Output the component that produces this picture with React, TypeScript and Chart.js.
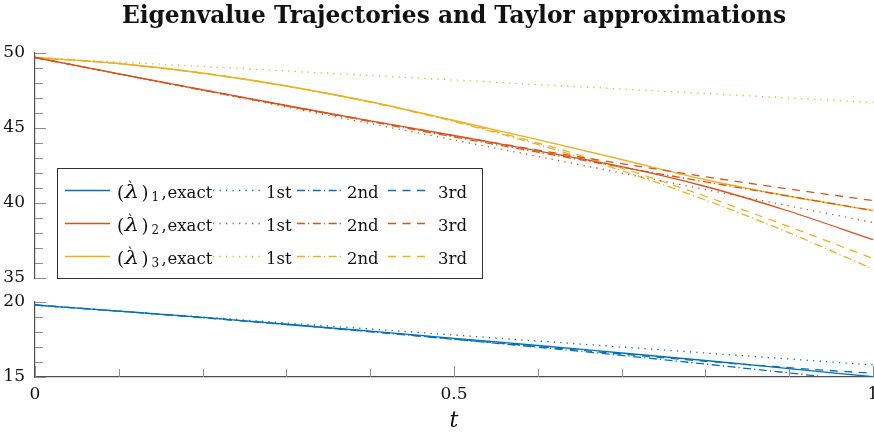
import { useEffect, useRef } from 'react';
import { Chart, registerables } from 'chart.js';

Chart.register(...registerables);

// Parameter values along the path
const T = [0, 0.1, 0.2, 0.3, 0.4, 0.5, 0.6, 0.7, 0.8, 0.9, 1];

// (λ)1: exact trajectory and Taylor approximations of order 1..3
const lambda1Exact = [19.8, 19.39, 18.97, 18.52, 18.06, 17.58, 17.1, 16.6, 16.1, 15.56, 15.02];
const lambda1First = [19.8, 19.4, 19.0, 18.6, 18.2, 17.8, 17.4, 17.0, 16.6, 16.2, 15.8];
const lambda1Second = [19.8, 19.39, 18.95, 18.5, 18.02, 17.51, 16.99, 16.44, 15.86, 15.27, 14.65];
const lambda1Third = [19.8, 19.39, 18.96, 18.5, 18.03, 17.53, 17.03, 16.53, 16.05, 15.62, 15.24];

// (λ)2
const lambda2Exact = [49.7, 48.61, 47.55, 46.5, 45.48, 44.5, 43.47, 42.42, 41.1, 39.45, 37.55];
const lambda2First = [49.7, 48.6, 47.5, 46.4, 45.3, 44.2, 43.1, 42.0, 40.9, 39.8, 38.7];
const lambda2Second = [49.7, 48.61, 47.53, 46.47, 45.43, 44.4, 43.39, 42.39, 41.41, 40.45, 39.5];
const lambda2Third = [49.7, 48.61, 47.54, 46.49, 45.47, 44.48, 43.53, 42.62, 41.75, 40.93, 40.16];

// (λ)3
const lambda3Exact = [49.7, 49.3, 48.65, 47.8, 46.75, 45.5, 44.22, 42.9, 41.55, 40.45, 39.5];
const lambda3First = [49.7, 49.4, 49.1, 48.8, 48.5, 48.2, 47.9, 47.6, 47.3, 47.0, 46.7];
const lambda3Second = [49.7, 49.29, 48.66, 47.8, 46.72, 45.43, 43.9, 42.16, 40.2, 38.01, 35.6];
const lambda3Third = [49.7, 49.29, 48.66, 47.8, 46.74, 45.47, 44.0, 42.33, 40.45, 38.42, 36.3];

// Axis ranges of the two panels (broken y axis)
const UPPER_RANGE = [35, 50];
const LOWER_RANGE = [15, 20];
const X_LABEL_STEP = 0.5;
const X_MINOR_STEP = 0.1;

const TITLE = 'Eigenvalue Trajectories and Taylor approximations';
const X_TITLE = 't';
const ORDER_LABELS = ['exact', '1st', '2nd', '3rd'];

const BLUE = '#0072BD';
const RED = '#D95319';
const YELLOW = '#EDB120';
const AXIS = '#505050';
const TICK = '#8c8c8c';
const SERIF = '"DejaVu Serif", serif';

const DASHES: number[][] = [[], [1.3, 5.2], [8, 3, 1.3, 3.5], [8, 6.5]];

const EIGEN = [
  { idx: '1', color: BLUE, axis: 'yLower', series: [lambda1Exact, lambda1First, lambda1Second, lambda1Third] },
  { idx: '2', color: RED, axis: 'yUpper', series: [lambda2Exact, lambda2First, lambda2Second, lambda2Third] },
  { idx: '3', color: YELLOW, axis: 'yUpper', series: [lambda3Exact, lambda3First, lambda3Second, lambda3Third] },
];

const datasets = EIGEN.flatMap((e) =>
  e.series.map((vals, k) => ({
    label: `(λ)${e.idx}, ${ORDER_LABELS[k]}`,
    data: T.map((t, i) => ({ x: t, y: vals[i] })),
    yAxisID: e.axis,
    borderColor: e.color,
    backgroundColor: e.color,
    borderWidth: 1.3,
    borderDash: DASHES[k],
    borderCapStyle: 'butt' as const,
    pointRadius: 0,
    fill: false,
    cubicInterpolationMode: 'monotone' as const,
  }))
);

// keep each panel's curves inside their own y range
const panelClip = {
  id: 'panelClip',
  beforeDatasetDraw(chart: any, args: any) {
    const sc = chart.scales[args.meta.yAxisID];
    const ca = chart.chartArea;
    const ctx = chart.ctx;
    ctx.save();
    ctx.beginPath();
    ctx.rect(ca.left, sc.top - 1, ca.right - ca.left + 2, sc.bottom - sc.top + 2);
    ctx.clip();
  },
  afterDatasetDraw(chart: any) {
    chart.ctx.restore();
  },
};

// inward-pointing major/minor tick marks
const innerTicks = {
  id: 'innerTicks',
  afterDraw(chart: any) {
    const { ctx, chartArea: ca } = chart;
    ctx.save();
    ctx.strokeStyle = TICK;
    ctx.lineWidth = 1;
    const yTicks = (sc: any, lo: number, hi: number) => {
      for (let v = lo; v <= hi; v += 1) {
        const y = Math.round(sc.getPixelForValue(v)) + 0.5;
        const len = v % 5 === 0 ? 11 : 8;
        ctx.beginPath();
        ctx.moveTo(ca.left, y);
        ctx.lineTo(ca.left + len, y);
        ctx.stroke();
      }
    };
    yTicks(chart.scales.yUpper, UPPER_RANGE[0], UPPER_RANGE[1]);
    yTicks(chart.scales.yLower, LOWER_RANGE[0], LOWER_RANGE[1]);
    const xs = chart.scales.x;
    const n = Math.round(1 / X_MINOR_STEP);
    for (let i = 0; i <= n; i++) {
      const v = i * X_MINOR_STEP;
      const x = Math.round(xs.getPixelForValue(v)) + 0.5;
      const major = Math.abs(v / X_LABEL_STEP - Math.round(v / X_LABEL_STEP)) < 1e-6;
      const len = major ? 11 : 8;
      ctx.beginPath();
      ctx.moveTo(x, ca.bottom);
      ctx.lineTo(x, ca.bottom - len);
      ctx.stroke();
    }
    ctx.restore();
  },
};

// 3 x 4 legend box in the lower-left corner of the upper panel
const gridLegend = {
  id: 'gridLegend',
  afterDraw(chart: any) {
    const { ctx, chartArea: ca } = chart;
    const up = chart.scales.yUpper;
    const w = 425;
    const h = 110;
    const left = ca.left + 22;
    const top = up.bottom - h;
    ctx.save();
    ctx.fillStyle = '#fff';
    ctx.fillRect(left, top, w, h);
    ctx.strokeStyle = '#333';
    ctx.lineWidth = 1;
    ctx.strokeRect(Math.round(left) + 0.5, Math.round(top) + 0.5, w, h);

    const samples = [
      [8, 53],
      [156, 203],
      [240, 286],
      [331, 371],
    ];
    const texts = [0, 209, 290, 381];
    EIGEN.forEach((e, r) => {
      const ry = top + 22.5 + r * 33;
      samples.forEach(([a, b], k) => {
        ctx.beginPath();
        ctx.strokeStyle = e.color;
        ctx.lineWidth = 1.3;
        ctx.setLineDash(DASHES[k]);
        ctx.moveTo(left + a, ry);
        ctx.lineTo(left + b, ry);
        ctx.stroke();
      });
      ctx.setLineDash([]);
      ctx.fillStyle = '#111';
      ctx.textBaseline = 'alphabetic';
      ctx.textAlign = 'left';
      const base = ry + 7;
      ctx.font = `18px ${SERIF}`;
      ctx.fillText('(', left + 60, base + 1.5);
      ctx.fillText(')', left + 84.5, base + 1.5);
      // widened lambda with a grave accent
      ctx.save();
      ctx.translate(left + 67.5, base);
      ctx.scale(1.3, 1);
      ctx.font = `italic 18px ${SERIF}`;
      ctx.fillText('λ', 0, 0);
      ctx.restore();
      ctx.font = `13px ${SERIF}`;
      ctx.fillText('`', left + 70.5, base - 6.5);
      ctx.font = `12px ${SERIF}`;
      ctx.fillText(e.idx, left + 94.5, base + 3);
      ctx.font = `16.5px ${SERIF}`;
      ctx.fillText(',', left + 104.5, base);
      ctx.fillText(ORDER_LABELS[0], left + 110.5, base);
      for (let k = 1; k < 4; k++) ctx.fillText(ORDER_LABELS[k], left + texts[k], base);
    });
    ctx.restore();
  },
};

const chartTitle = {
  id: 'chartTitle',
  afterDraw(chart: any) {
    const { ctx, chartArea: ca } = chart;
    ctx.save();
    ctx.font = `bold 23.3px ${SERIF}`;
    ctx.fillStyle = '#111';
    ctx.textAlign = 'center';
    ctx.textBaseline = 'middle';
    ctx.fillText(TITLE, (ca.left + ca.right) / 2, 17);
    ctx.restore();
  },
};

const tickFont = { family: SERIF, size: 17 };
const fmt = (v: number | string) => String(Number(v));

const yScale = (range: number[], stackWeight: number, weight: number) => ({
  type: 'linear' as const,
  position: 'left' as const,
  stack: 'eig',
  stackWeight,
  weight,
  min: range[0],
  max: range[1],
  grid: { display: false, drawTicks: false },
  border: { display: true, color: AXIS, width: 1.2 },
  ticks: { stepSize: 5, padding: 10, color: '#111', font: tickFont, callback: fmt },
  afterFit: (s: any) => {
    s.width = 35;
    s.paddingTop = 0;
    s.paddingBottom = 0;
  },
});

export default function App() {
  const ref = useRef<HTMLCanvasElement>(null);

  useEffect(() => {
    if (!ref.current) return;
    const chart = new Chart(ref.current, {
      type: 'line',
      data: { datasets },
      options: {
        animation: false,
        responsive: false,
        devicePixelRatio: 1,
        layout: { padding: { top: 53, right: 1, left: 0, bottom: 0 } },
        plugins: {
          legend: { display: false },
          tooltip: { enabled: false },
          title: { display: false },
        },
        scales: {
          x: {
            type: 'linear',
            position: 'bottom',
            min: 0,
            max: 1,
            grid: { display: false, drawTicks: false },
            border: { display: true, color: AXIS, width: 1.2 },
            ticks: { stepSize: X_LABEL_STEP, padding: 7, color: '#111', font: tickFont, maxRotation: 0, callback: fmt },
            title: {
              display: true,
              text: X_TITLE,
              color: '#111',
              font: { family: SERIF, size: 22, style: 'italic' },
              padding: { top: 0, bottom: 0 },
            },
            afterFit: (s: any) => {
              s.height = 57;
              s.paddingLeft = 0;
              s.paddingRight = 0;
            },
          },
          yUpper: yScale(UPPER_RANGE, 225, 3),
          yGap: {
            type: 'linear',
            position: 'left',
            stack: 'eig',
            stackWeight: 24,
            weight: 2,
            min: 0,
            max: 1,
            grid: { display: false, drawTicks: false },
            border: { display: false },
            ticks: { display: false },
            afterFit: (s: any) => {
              s.width = 35;
              s.paddingTop = 0;
              s.paddingBottom = 0;
            },
          },
          yLower: yScale(LOWER_RANGE, 75, 1),
        },
      } as any,
      plugins: [panelClip, innerTicks, gridLegend, chartTitle],
    });
    return () => chart.destroy();
  }, []);

  return (
    <div style={{ position: 'fixed', left: 0, top: 0, width: 874, height: 434, background: '#fff' }}>
      <canvas ref={ref} width={874} height={434} style={{ display: 'block' }} />
    </div>
  );
}
